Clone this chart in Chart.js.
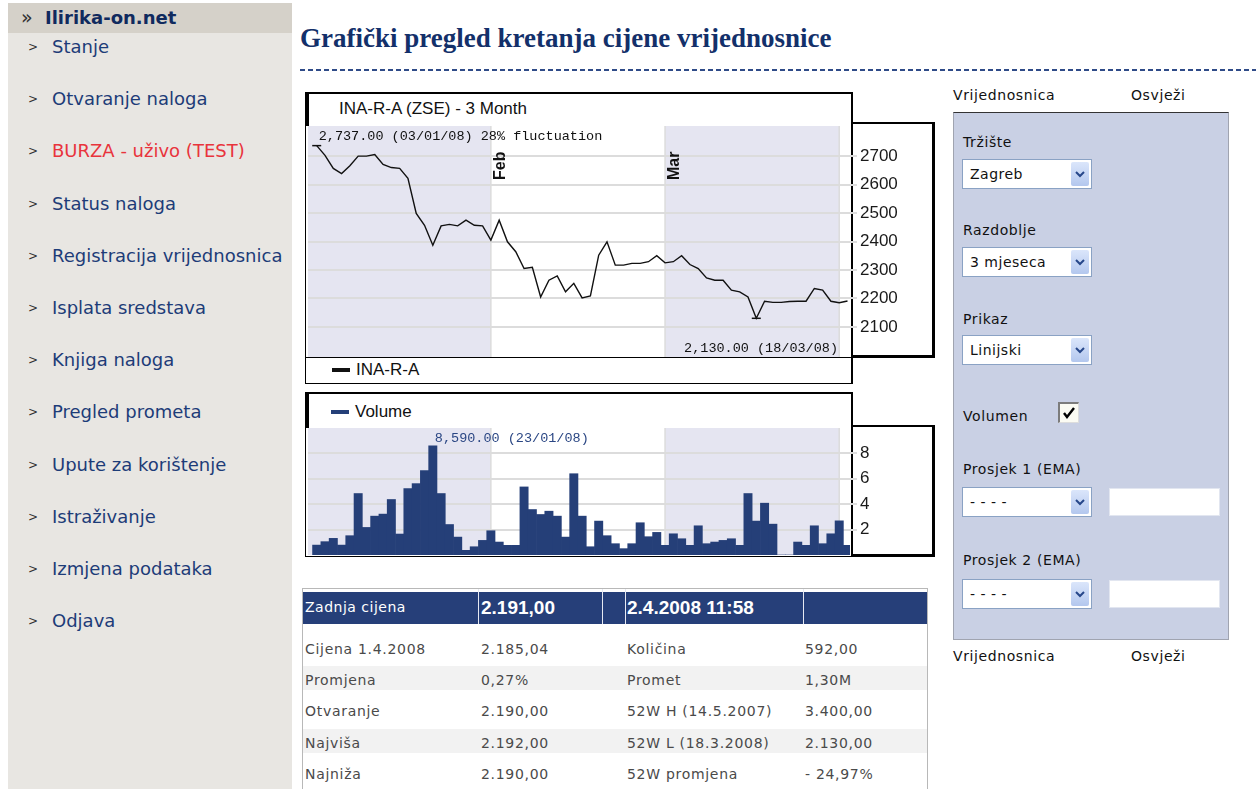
<!DOCTYPE html>
<html>
<head>
<meta charset="utf-8">
<title>Grafički pregled kretanja cijene vrijednosnice</title>
<script src="https://cdn.jsdelivr.net/npm/chart.js@4.4.1/dist/chart.umd.min.js"></script>
<style>
  body { margin: 0; width: 1256px; height: 789px; overflow: hidden; position: relative; background: #fff; font-family: "DejaVu Sans", sans-serif; }
  .a { position: absolute; }
  #side { left: 8px; top: 3px; width: 284px; height: 786px; background: #e8e6e2; }
  #sideHead { left: 8px; top: 3px; width: 284px; height: 30px; background: #d5d1c9; }
  .brand { left: 45px; top: 6px; font: bold 18px "DejaVu Sans"; color: #102a5e; line-height: 24px; }
  .raquo { left: 21px; top: 6px; font: 19px "DejaVu Sans"; color: #333; line-height: 22px; }
  .mi { position: absolute; left: 52px; font: 18px "DejaVu Sans"; color: #1d3c78; line-height: 20px; white-space: nowrap; }
  .mk { position: absolute; left: 28px; font: 12px "DejaVu Sans"; color: #333; line-height: 20px; }
  h1 { position: absolute; left: 300px; top: 21px; margin: 0; font: bold 27px "Liberation Serif", serif; color: #13306a; line-height: 34px; white-space: nowrap; }
  #dash { left: 300px; top: 69px; width: 956px; height: 2px; background: repeating-linear-gradient(to right, #2f4b88 0 5px, transparent 5px 8px); }
  .frameTop { border-top: 2px solid #000; border-left: 4px solid #000; border-right: 2px solid #000; box-sizing: border-box; }
  .axisBox { border: 2px solid #000; border-right-width: 3px; border-bottom-width: 3px; box-sizing: border-box; }
  .ctitle { font: 17px "Liberation Sans", Arial, sans-serif; color: #111; line-height: 20px; white-space: nowrap; }
  .legend { font: 17px "Liberation Sans", Arial, sans-serif; color: #111; line-height: 20px; white-space: nowrap; }
  .legend span.sw { display: inline-block; width: 18px; height: 4px; vertical-align: middle; margin-right: 6px; position: relative; top: -1px; }
  canvas { position: absolute; z-index: 2; }
  #panel { left: 953px; top: 112px; width: 276px; height: 528px; background: #c9d0e4; border: 1px solid #a0a4b0; border-top: 1px solid #333; box-sizing: border-box; }
  .lbl { position: absolute; font: 14px "DejaVu Sans"; letter-spacing: 0.6px; color: #111; line-height: 18px; white-space: nowrap; }
  .sel { position: absolute; width: 130px; height: 30px; box-sizing: border-box; background: #fff; border: 1px solid #8aa2c4; font: 14px "DejaVu Sans"; letter-spacing: 0.5px; color: #111; line-height: 28px; padding-left: 7px; }
  .sel .btn { position: absolute; right: 2px; top: 2px; width: 18px; height: 24px; border-radius: 2px; background: linear-gradient(#dbe6fb, #b3c7ee); }
  .sel .btn svg { position: absolute; left: 4px; top: 9px; }
  .inp { position: absolute; width: 111px; height: 28px; background: #fff; border: 1px solid #e2e6f0; box-sizing: border-box; }
  #tbl { left: 302px; top: 588px; width: 626px; height: 210px; border: 1px solid #b8b8b8; box-sizing: border-box; }
  #thead { left: 303px; top: 592px; width: 624px; height: 32px; background: #263f79; }
  .sep { position: absolute; width: 1px; background: #e6e9f2; }
  .th { position: absolute; color: #fff; top: 592px; white-space: nowrap; }
  .row { position: absolute; left: 303px; width: 624px; height: 24px; background: #f2f2f2; }
  .td { position: absolute; font: 14px "DejaVu Sans"; letter-spacing: 0.7px; color: #4a4a4a; line-height: 20px; white-space: nowrap; }
</style>
</head>
<body>

<!-- left menu -->
<div id="side" class="a"></div>
<div id="sideHead" class="a"></div>
<div class="a raquo">»</div>
<div class="a brand">Ilirika-on.net</div>
<div id="menu"></div>

<h1>Grafički pregled kretanja cijene vrijednosnice</h1>
<div id="dash" class="a"></div>

<!-- price chart frame -->
<div class="a frameTop" style="left:305px;top:92px;width:548px;height:34px;"></div>
<div class="a ctitle" style="left:339px;top:99px;">INA-R-A (ZSE) - 3 Month</div>
<div class="a" style="left:305px;top:126px;width:1px;height:231px;background:#000;"></div>
<div class="a axisBox" style="left:851px;top:122px;width:84px;height:236px;"></div>
<div class="a" style="left:305px;top:357px;width:548px;height:27px;border:1px solid #000;border-right-width:2px;box-sizing:border-box;"></div>
<div id="priceLegend" class="a legend" style="left:332px;top:360px;"></div>
<canvas id="priceChart" width="630" height="235" style="left:305px;top:123px;"></canvas>

<!-- volume chart frame -->
<div class="a frameTop" style="left:305px;top:392px;width:548px;height:36px;"></div>
<div id="volumeLegend" class="a legend" style="left:331px;top:402px;"></div>
<div class="a" style="left:305px;top:428px;width:547px;height:129px;border-left:1px solid #000;border-bottom:1px solid #000;box-sizing:border-box;"></div>
<div class="a axisBox" style="left:851px;top:425px;width:84px;height:132px;"></div>
<canvas id="volumeChart" width="630" height="129" style="left:305px;top:427px;"></canvas>

<!-- right panel -->
<div class="lbl" style="left:953px;top:86px;">Vrijednosnica</div>
<div class="lbl" style="left:1131px;top:86px;">Osvježi</div>
<div id="panel" class="a"></div>
<div class="lbl" style="left:963px;top:133px;">Tržište</div>
<div class="sel" style="left:962px;top:159px;">Zagreb<div class="btn"><svg width="10" height="7"><polyline points="1,1 5,5 9,1" fill="none" stroke="#27478a" stroke-width="2"/></svg></div></div>
<div class="lbl" style="left:963px;top:221px;">Razdoblje</div>
<div class="sel" style="left:962px;top:247px;">3 mjeseca<div class="btn"><svg width="10" height="7"><polyline points="1,1 5,5 9,1" fill="none" stroke="#27478a" stroke-width="2"/></svg></div></div>
<div class="lbl" style="left:963px;top:310px;">Prikaz</div>
<div class="sel" style="left:962px;top:335px;">Linijski<div class="btn"><svg width="10" height="7"><polyline points="1,1 5,5 9,1" fill="none" stroke="#27478a" stroke-width="2"/></svg></div></div>
<div class="lbl" style="left:963px;top:407px;">Volumen</div>
<div class="a" style="left:1058px;top:402px;width:21px;height:21px;box-sizing:border-box;background:#fbfbf3;border-top:2px solid #7c7c7c;border-left:2px solid #7c7c7c;border-right:1px solid #ddd;border-bottom:1px solid #ddd;">
  <svg width="18" height="18" style="position:absolute;left:0;top:0"><polyline points="4,9 7,13 14,4" fill="none" stroke="#000" stroke-width="2.4"/></svg>
</div>
<div class="lbl" style="left:963px;top:460px;">Prosjek 1 (EMA)</div>
<div class="sel" style="left:962px;top:487px;">- - - -<div class="btn"><svg width="10" height="7"><polyline points="1,1 5,5 9,1" fill="none" stroke="#27478a" stroke-width="2"/></svg></div></div>
<div class="inp" style="left:1109px;top:488px;"></div>
<div class="lbl" style="left:963px;top:551px;">Prosjek 2 (EMA)</div>
<div class="sel" style="left:962px;top:579px;">- - - -<div class="btn"><svg width="10" height="7"><polyline points="1,1 5,5 9,1" fill="none" stroke="#27478a" stroke-width="2"/></svg></div></div>
<div class="inp" style="left:1109px;top:580px;"></div>
<div class="lbl" style="left:953px;top:647px;">Vrijednosnica</div>
<div class="lbl" style="left:1131px;top:647px;">Osvježi</div>

<!-- quote table -->
<div id="tbl" class="a"></div>
<div id="thead" class="a"></div>
<div class="sep" style="left:478px;top:589px;height:35px;"></div>
<div class="sep" style="left:602px;top:589px;height:35px;"></div>
<div class="sep" style="left:625px;top:589px;height:35px;"></div>
<div class="sep" style="left:803px;top:589px;height:35px;"></div>
<div class="th" style="left:305px;font:14px 'DejaVu Sans';letter-spacing:0.5px;line-height:30px;">Zadnja cijena</div>
<div class="th" style="left:481px;font:bold 19px 'Liberation Sans',Arial;line-height:32px;">2.191,00</div>
<div class="th" style="left:627px;font:bold 19px 'Liberation Sans',Arial;line-height:32px;">2.4.2008 11:58</div>
<div id="rows"></div>

<script>
// trading days on the chart (dd/mm/yy)
const tradeDates = [
  "03/01/08", "04/01/08", "07/01/08", "08/01/08", "09/01/08", "10/01/08", "11/01/08",
  "14/01/08", "15/01/08", "16/01/08", "17/01/08", "18/01/08", "21/01/08", "22/01/08",
  "23/01/08", "24/01/08", "25/01/08", "28/01/08", "29/01/08", "30/01/08", "31/01/08",
  "01/02/08", "04/02/08", "05/02/08", "06/02/08", "07/02/08", "08/02/08", "11/02/08",
  "12/02/08", "13/02/08", "14/02/08", "15/02/08", "18/02/08", "19/02/08", "20/02/08",
  "21/02/08", "22/02/08", "25/02/08", "26/02/08", "27/02/08", "28/02/08", "29/02/08",
  "03/03/08", "04/03/08", "05/03/08", "06/03/08", "07/03/08", "10/03/08", "11/03/08",
  "12/03/08", "13/03/08", "14/03/08", "17/03/08", "18/03/08", "19/03/08", "20/03/08",
  "21/03/08", "24/03/08", "25/03/08", "26/03/08", "27/03/08", "28/03/08", "31/03/08",
  "01/04/08", "02/04/08"
];

// INA-R-A closing price
const priceClose = [
  2737, 2703, 2657, 2639, 2666, 2700, 2700, 2706, 2671, 2660, 2657,
  2622, 2499, 2457, 2387, 2455, 2460, 2455, 2475, 2457, 2455,
  2405, 2475, 2399, 2364, 2305, 2309, 2205, 2264, 2279, 2223, 2253,
  2202, 2209, 2352, 2399, 2317, 2317, 2323, 2323, 2329, 2350,
  2325, 2329, 2350, 2319, 2305, 2272, 2264, 2264, 2229, 2223, 2205,
  2130, 2190, 2186, 2186, 2189, 2190, 2190, 2235, 2229, 2190,
  2185, 2191
];

// traded volume
const volumeData = [
  780, 1050, 1310, 780, 1520, 4840, 2170, 3060, 3220, 4370, 1650,
  5230, 5620, 6640, 8590, 4840, 2400, 1410, 370, 650, 1150,
  1910, 1020, 760, 760, 5360, 3580, 3190, 3450, 3060, 1410, 6400,
  3060, 650, 2670, 1520, 890, 500, 890, 2540, 1440, 1780,
  760, 1670, 1280, 760, 2300, 890, 1020, 1150, 1280, 760,
  4840, 2670, 4080, 2430, 0, 0, 1020, 760, 2300, 890,
  1670, 2690, 760
];

const priceTicks = [2100, 2200, 2300, 2400, 2500, 2600, 2700];
const volumeTicks = [2000, 4000, 6000, 8000];
const monthNames = ["Jan", "Feb", "Mar", "Apr", "May", "Jun", "Jul", "Aug", "Sep", "Oct", "Nov", "Dec"];

const menuItems = [
  "Stanje", "Otvaranje naloga", "BURZA - uživo (TEST)", "Status naloga",
  "Registracija vrijednosnica", "Isplata sredstava", "Knjiga naloga",
  "Pregled prometa", "Upute za korištenje", "Istraživanje",
  "Izmjena podataka", "Odjava"
];

const quoteRows = [
  ["Cijena 1.4.2008", "2.185,04", "Količina", "592,00"],
  ["Promjena", "0,27%", "Promet", "1,30M"],
  ["Otvaranje", "2.190,00", "52W H (14.5.2007)", "3.400,00"],
  ["Najviša", "2.192,00", "52W L (18.3.2008)", "2.130,00"],
  ["Najniža", "2.190,00", "52W promjena", "- 24,97%"]
];

// menu
var menuHtml = "";
menuItems.forEach(function (name, i) {
  var top = 37 + i * 52.2;
  var color = i === 2 ? "#e8343c" : "#1d3c78";
  menuHtml += '<div class="mk" style="top:' + top + 'px">&gt;</div>' +
    '<div class="mi" style="top:' + top + 'px;color:' + color + '">' + name + "</div>";
});
document.getElementById("menu").innerHTML = menuHtml;

// quote table rows
var rowsHtml = "";
var colX = [305, 481, 627, 805];
quoteRows.forEach(function (r, i) {
  var center = 649 + i * 31.2;
  if (i % 2 === 1) rowsHtml += '<div class="row" style="top:' + (center - 14) + 'px"></div>';
  r.forEach(function (txt, c) {
    rowsHtml += '<div class="td" style="left:' + colX[c] + "px;top:" + (center - 10) + 'px">' + txt + "</div>";
  });
});
document.getElementById("rows").innerHTML = rowsHtml;

const shadeColor = "#e5e5f1";
const gridColor = "#dcdcdc";
const xMin = -1.05;
const xMax = 64.3;

// indices where a new month starts
function monthStarts() {
  var out = [];
  for (var i = 1; i < tradeDates.length; i++) {
    if (tradeDates[i].substr(3, 2) !== tradeDates[i - 1].substr(3, 2)) out.push(i);
  }
  return out;
}

function fmt2(v) {
  return v.toLocaleString("en-US", { minimumFractionDigits: 2, maximumFractionDigits: 2 });
}

// no extra room around the right axis labels
function fixAxis(s) {
  s.width = 85;
  s.paddingTop = 0;
  s.paddingBottom = 0;
  s.paddingLeft = 0;
  s.paddingRight = 0;
}

// alternating month bands behind the data, with month names
const monthBands = {
  id: "monthBands",
  beforeDraw(chart, args, opts) {
    const ctx = chart.ctx;
    const a = chart.chartArea;
    const x = chart.scales.x;
    const starts = monthStarts();
    const edges = [a.left].concat(starts.map(function (i) { return x.getPixelForValue(i); }), [a.right]);
    ctx.save();
    for (var k = 0; k < edges.length - 1; k++) {
      if (k % 2 === 0) {
        ctx.fillStyle = shadeColor;
        ctx.fillRect(edges[k], a.top, Math.min(edges[k + 1], a.right) - edges[k], a.bottom - a.top);
      }
    }
    ctx.strokeStyle = gridColor;
    ctx.lineWidth = 1.5;
    starts.forEach(function (i) {
      var px = x.getPixelForValue(i);
      ctx.beginPath();
      ctx.moveTo(px, a.top);
      ctx.lineTo(px, a.bottom);
      ctx.stroke();
    });
    ctx.restore();
  },
  beforeDatasetsDraw(chart, args, opts) {
    if (!opts.labels) return;
    const ctx = chart.ctx;
    const a = chart.chartArea;
    const x = chart.scales.x;
    ctx.save();
    ctx.fillStyle = "#111";
    ctx.font = "bold 16px 'Liberation Sans', Arial";
    ctx.textAlign = "left";
    ctx.textBaseline = "top";
    monthStarts().forEach(function (i) {
      var px = x.getPixelForValue(i);
      if (a.right - px < 20) return;
      var m = parseInt(tradeDates[i].substr(3, 2), 10) - 1;
      ctx.save();
      ctx.translate(px + 2, a.top + 54);
      ctx.rotate(-Math.PI / 2);
      ctx.fillText(monthNames[m], 0, 0);
      ctx.restore();
    });
    ctx.restore();
  }
};

// high / low notes written in the plot
const extremeNotes = {
  id: "extremeNotes",
  afterDatasetsDraw(chart, args, opts) {
    const ctx = chart.ctx;
    const a = chart.chartArea;
    const x = chart.scales.x;
    const data = chart.data.datasets[0].data.map(function (p) { return p.y; });
    const max = Math.max.apply(null, data);
    const min = Math.min.apply(null, data);
    const iMax = data.indexOf(max);
    const iMin = data.indexOf(min);
    ctx.save();
    ctx.font = "13.5px 'Liberation Mono', monospace";
    ctx.fillStyle = opts.color;
    ctx.textBaseline = "middle";
    ctx.textAlign = "left";
    var top = fmt2(max) + " (" + tradeDates[iMax] + ")";
    if (opts.fluctuation) top += " " + Math.floor((max - min) / min * 100) + "% fluctuation";
    ctx.fillText(top, x.getPixelForValue(iMax) + 2, a.top + 10);
    if (opts.low) {
      ctx.textAlign = "right";
      ctx.fillText(fmt2(min) + " (" + tradeDates[iMin] + ")", a.right - 12, a.bottom - 9);
    }
    ctx.restore();
  }
};

function htmlLegend(chart, el, color) {
  el.innerHTML = chart.data.datasets.map(function (ds) {
    return '<span class="sw" style="background:' + color + '"></span>' + ds.label;
  }).join("");
}

const pHigh = priceClose.indexOf(Math.max.apply(null, priceClose));
const pLow = priceClose.indexOf(Math.min.apply(null, priceClose));

const priceChart = new Chart(document.getElementById("priceChart"), {
  type: "line",
  data: {
    datasets: [{
      label: "INA-R-A",
      data: priceClose.map(function (v, i) { return { x: i, y: v }; }),
      borderColor: "#111",
      backgroundColor: "#111",
      borderWidth: 1.4,
      tension: 0,
      pointStyle: "line",
      pointRadius: function (c) { return c.dataIndex === pHigh || c.dataIndex === pLow ? 4.5 : 0; },
      pointBorderWidth: 1.5,
      pointBorderColor: "#111"
    }]
  },
  options: {
    responsive: false,
    animation: false,
    devicePixelRatio: 1,
    layout: { autoPadding: false, padding: { left: 3, top: 3, right: 0, bottom: 1 } },
    plugins: {
      legend: { display: false },
      tooltip: { enabled: false },
      monthBands: { labels: true },
      extremeNotes: { color: "#111", fluctuation: true, low: true }
    },
    scales: {
      x: { type: "linear", min: xMin, max: xMax, display: false, offset: false },
      y: {
        position: "right",
        min: 1994,
        max: 2806,
        afterBuildTicks: function (s) { s.ticks = priceTicks.map(function (v) { return { value: v }; }); },
        afterFit: fixAxis,
        grid: { color: gridColor, lineWidth: 2, tickLength: 7 },
        border: { display: false },
        ticks: {
          padding: 3,
          color: "#1a1a1a",
          font: { family: "'Liberation Sans', Arial", size: 17 },
          callback: function (v) { return String(v); }
        }
      }
    }
  },
  plugins: [monthBands, extremeNotes]
});
htmlLegend(priceChart, document.getElementById("priceLegend"), "#111");

const volumeChart = new Chart(document.getElementById("volumeChart"), {
  type: "bar",
  data: {
    datasets: [{
      label: "Volume",
      data: volumeData.map(function (v, i) { return { x: i, y: v }; }),
      backgroundColor: "#253f78",
      borderWidth: 0,
      barPercentage: 1,
      categoryPercentage: 1
    }]
  },
  options: {
    responsive: false,
    animation: false,
    devicePixelRatio: 1,
    layout: { autoPadding: false, padding: { left: 3, top: 1, right: 0, bottom: 1 } },
    plugins: {
      legend: { display: false },
      tooltip: { enabled: false },
      monthBands: { labels: false },
      extremeNotes: { color: "#2b4784", fluctuation: false, low: false }
    },
    scales: {
      x: { type: "linear", min: xMin, max: xMax, display: false, offset: false },
      y: {
        position: "right",
        min: 0,
        max: 10000,
        afterBuildTicks: function (s) { s.ticks = volumeTicks.map(function (v) { return { value: v }; }); },
        afterFit: fixAxis,
        grid: { color: gridColor, lineWidth: 2, tickLength: 7 },
        border: { display: false },
        ticks: {
          padding: 3,
          color: "#1a1a1a",
          font: { family: "'Liberation Sans', Arial", size: 17 },
          callback: function (v) { return String(v / 1000); }
        }
      }
    }
  },
  plugins: [monthBands, extremeNotes]
});
htmlLegend(volumeChart, document.getElementById("volumeLegend"), "#253f78");
</script>
</body>
</html>
